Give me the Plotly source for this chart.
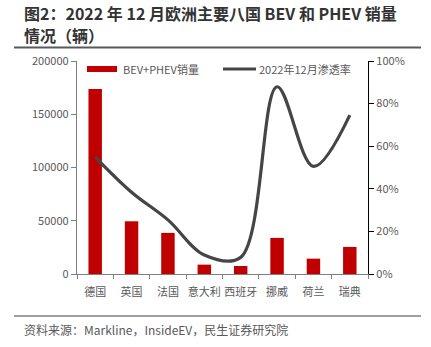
import plotly.graph_objects as go

categories = ["德国", "英国", "法国", "意大利", "西班牙", "挪威", "荷兰", "瑞典"]
sales = [173600, 49500, 38600, 8800, 7500, 33900, 14400, 25400]
penetration = [0.549, 0.384, 0.254, 0.089, 0.078, 0.879, 0.505, 0.746]
left_ticks = [0, 50000, 100000, 150000, 200000]
right_ticks = [0, 0.2, 0.4, 0.6, 0.8, 1.0]

FONT = "Noto Sans CJK SC"
GRAY = "#595959"

fig = go.Figure()
fig.add_trace(go.Bar(x=categories, y=sales, name="BEV+PHEV销量",
                     marker=dict(color="#C00000", line=dict(width=0)),
                     width=0.37, showlegend=False))
fig.add_trace(go.Scatter(x=categories, y=penetration, name="2022年12月渗透率",
                         yaxis="y2", mode="lines",
                         line=dict(color="#454545", width=3.2, shape="spline", smoothing=1.0),
                         showlegend=False))

fig.update_layout(
    width=431, height=347,
    margin=dict(l=77, r=63, t=61, b=73),
    paper_bgcolor="white", plot_bgcolor="white",
    font=dict(family=FONT, size=11, color=GRAY),
    bargap=0.5,
    xaxis=dict(showline=True, linecolor="#7f7f7f", linewidth=1.3,
               ticks="outside", ticklen=4, tickcolor="#7f7f7f",
               tickson="boundaries", tickangle=0, ticklabelstandoff=8,
               tickfont=dict(size=11, color=GRAY),
               showgrid=False, fixedrange=True),
    yaxis=dict(range=[0, 200000], tickvals=left_ticks,
               ticktext=[str(v) for v in left_ticks],
               showline=True, linecolor="#7f7f7f", linewidth=1.3,
               ticks="outside", ticklen=5, tickcolor="#7f7f7f",
               showgrid=False, zeroline=False, tickfont=dict(size=11, color=GRAY)),
    yaxis2=dict(range=[0, 1.0], tickvals=right_ticks,
                ticktext=[f"{int(round(v*100))}%" for v in right_ticks],
                overlaying="y", side="right",
                showline=True, linecolor="#000000", linewidth=1.3,
                ticks="outside", ticklen=5, tickcolor="#000000",
                showgrid=False, zeroline=False, tickfont=dict(size=11, color=GRAY)),
)

def px(x):
    return (x - 77) / 291

def py(y):
    return (274 - y) / 213

# Title (two lines)
fig.add_annotation(text="<b>图2：2022 年 12 月欧洲主要八国 BEV 和 PHEV 销量</b>",
                   xref="paper", yref="paper", x=px(22), y=py(13),
                   xanchor="left", yanchor="middle", align="left", showarrow=False,
                   font=dict(family=FONT, size=16, color="#333333"))
fig.add_annotation(text="<b>情况（辆）</b>",
                   xref="paper", yref="paper", x=px(22), y=py(35),
                   xanchor="left", yanchor="middle", align="left", showarrow=False,
                   font=dict(family=FONT, size=16, color="#333333"))
# separator lines
fig.add_shape(type="line", xref="paper", yref="paper",
              x0=px(14), x1=px(421), y0=py(47.5), y1=py(47.5),
              line=dict(color="#595959", width=2))
fig.add_shape(type="line", xref="paper", yref="paper",
              x0=px(14), x1=px(421), y0=py(316), y1=py(316),
              line=dict(color="#7f7f7f", width=1.5))
# Source
fig.add_annotation(text="资料来源：Markline，InsideEV，民生证券研究院",
                   xref="paper", yref="paper", x=px(22), y=py(329),
                   xanchor="left", yanchor="middle", showarrow=False,
                   font=dict(family=FONT, size=12, color=GRAY))

# Custom legend
ly = py(69)
fig.add_shape(type="rect", xref="paper", yref="paper",
              x0=px(87), x1=px(117), y0=py(72), y1=py(66),
              fillcolor="#C00000", line=dict(width=0))
fig.add_annotation(text="BEV+PHEV销量", xref="paper", yref="paper",
                   x=px(121), y=ly, xanchor="left", yanchor="middle",
                   showarrow=False, font=dict(family=FONT, size=11, color=GRAY))
fig.add_shape(type="line", xref="paper", yref="paper",
              x0=px(223), x1=px(256), y0=ly, y1=ly,
              line=dict(color="#454545", width=3))
fig.add_annotation(text="2022年12月渗透率", xref="paper", yref="paper",
                   x=px(257), y=ly, xanchor="left", yanchor="middle",
                   showarrow=False, font=dict(family=FONT, size=11, color=GRAY))

fig.write_html("out.html")
